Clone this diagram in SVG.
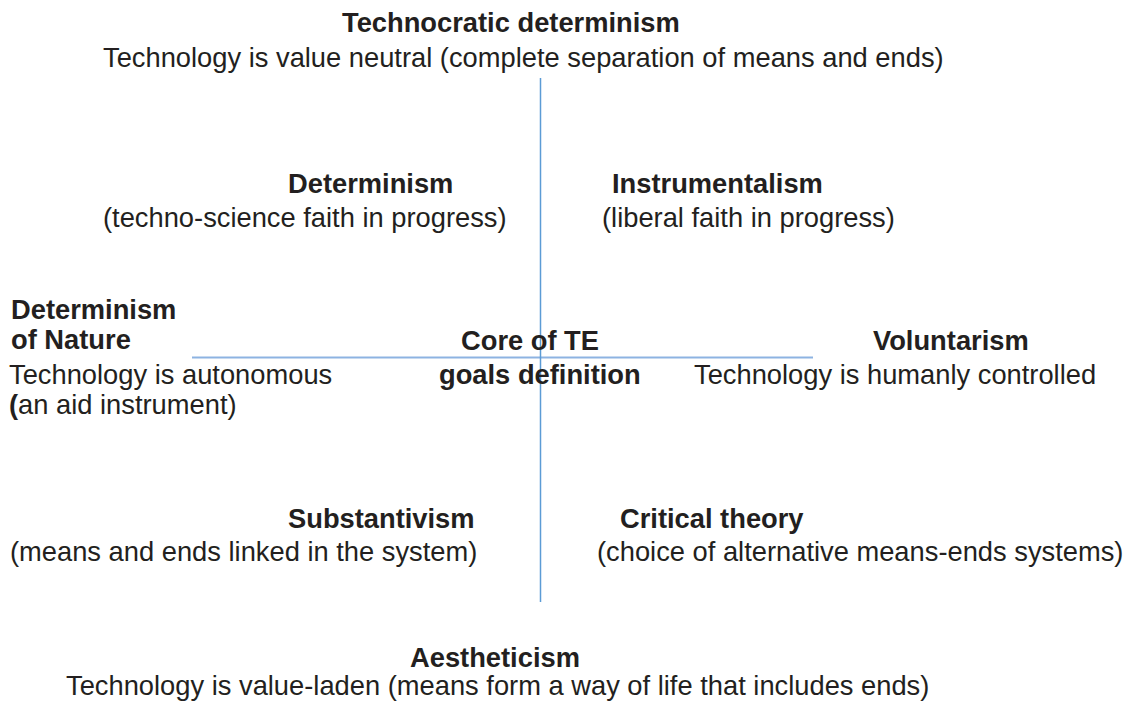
<svg xmlns="http://www.w3.org/2000/svg" width="1131" height="702" viewBox="0 0 1131 702">
  <style>
    text { font-family: "Liberation Sans", Arial, sans-serif; font-size: 27.3px; fill: #231f20; }
    .b { font-weight: bold; }
    .axis-h { stroke: #8db3e2; stroke-width: 2; }
    .axis-v { stroke: #5b9bd5; stroke-width: 1.5; }
  </style>
  <rect width="1131" height="702" fill="#ffffff"/>

  <!-- axes -->
  <g id="connectors">
    <line class="axis-h" x1="192" y1="357.5" x2="813" y2="357.5"/>
    <line class="axis-v" x1="540.5" y1="78" x2="540.5" y2="602"/>
  </g>

  <g id="technocratic-determinism">
    <text class="b" x="342" y="32">Technocratic determinism</text>
    <text x="103" y="67">Technology is value neutral (complete separation of means and ends)</text>
  </g>

  <g id="determinism">
    <text class="b" x="288" y="193">Determinism</text>
    <text x="103" y="227">(techno-science faith in progress)</text>
  </g>

  <g id="instrumentalism">
    <text class="b" x="612" y="193">Instrumentalism</text>
    <text x="602" y="227">(liberal faith in progress)</text>
  </g>

  <g id="determinism-of-nature">
    <text class="b" x="11" y="319">Determinism</text>
    <text class="b" x="11" y="349">of Nature</text>
    <text x="9" y="384">Technology is autonomous</text>
    <text x="9" y="414"><tspan class="b">(</tspan>an aid instrument)</text>
  </g>

  <g id="core">
    <text class="b" x="461" y="350">Core of TE</text>
    <text class="b" x="439" y="384">goals definition</text>
  </g>

  <g id="voluntarism">
    <text class="b" x="873" y="350">Voluntarism</text>
    <text x="694" y="384">Technology is humanly controlled</text>
  </g>

  <g id="substantivism">
    <text class="b" x="288" y="528">Substantivism</text>
    <text x="10" y="561">(means and ends linked in the system)</text>
  </g>

  <g id="critical-theory">
    <text class="b" x="620" y="528">Critical theory</text>
    <text x="597" y="561">(choice of alternative means-ends systems)</text>
  </g>

  <g id="aestheticism">
    <text class="b" x="410" y="667">Aestheticism</text>
    <text x="66" y="695">Technology is value-laden (means form a way of life that includes ends)</text>
  </g>
</svg>
